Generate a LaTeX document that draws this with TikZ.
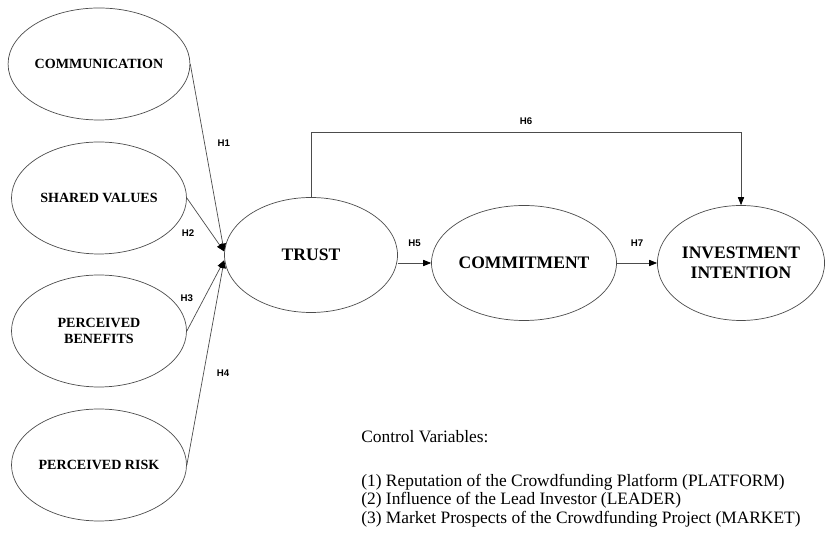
\documentclass[tikz,border=0pt]{standalone}
\usepackage{fontspec}
\setmainfont{Liberation Serif}
\newfontfamily\hfont{Liberation Sans}
\usetikzlibrary{arrows.meta}
\usetikzlibrary{shapes.geometric}

\begin{document}
\begin{tikzpicture}

      \useasboundingbox (0,0) rectangle (16.54,10.8);

      \begin{scope}[every node/.style={ellipse,draw=black!70,thin,inner sep=0pt,align=center,
          font=\bfseries\fontsize{8}{9.5}\selectfont,minimum width=3.5cm,minimum height=2.24cm}]
        \node (comm) at (1.98, 9.52) {COMMUNICATION};
        \node (shared) at (1.98, 6.84) {SHARED VALUES};
        \node (benefit) at (1.98, 4.18) {PERCEIVED\\BENEFITS};
        \node (risk) at (1.98, 1.50) {PERCEIVED RISK};
      \end{scope}

      \begin{scope}[every node/.style={ellipse,draw=black!70,thin,inner sep=0pt,align=center,
          font=\bfseries\fontsize{10}{11.5}\selectfont,minimum height=2.3cm}]
        \node[minimum width=3.46cm] (trust) at (6.22, 5.7) {TRUST};
        \node[minimum width=3.44cm] (commit) at (10.48, 5.54) {COMMITMENT};
        \node[minimum width=3.32cm] (invest) at (14.82, 5.54) {INVESTMENT\\INTENTION};
      \end{scope}

      \begin{scope}[>={Triangle[black,length=4.5pt,width=3.5pt]},
          link/.style={draw=black!70,thin},
          every node/.style={font=\hfont\bfseries\fontsize{5.5}{6}\selectfont},
          every edge/.style={link}]
        \path [->] (comm.east) edge node[pos=0.42,right=4pt] {H1} ([yshift=2pt]trust.west);
        \path [->] (shared.east) edge node[pos=0.65,left=6pt] {H2} ([yshift=2pt]trust.west);
        \path [->] (benefit.east) edge node[pos=0.47,left=3pt] {H3} ([yshift=-3pt]trust.west);
        \path [->] (risk.east) edge node[pos=0.45,right=4pt] {H4} ([yshift=-3pt]trust.west);
        \path [->] (trust.east |- commit.west) edge node[above=6pt] {H5} (commit.west);
        \path [->] (commit.east) edge node[above=6pt] {H7} (invest.west);
        \draw [link,->] (trust.north) -- ++(0,1.3) -| node[pos=0.25,above=1pt] {H6} (invest.north);
      \end{scope}

      \node[anchor=north west,align=left,inner sep=0pt,font=\fontsize{9.9}{10.5}\selectfont] (ctrl) at (7.22, 2.2)
        {Control Variables:\\[14.5pt]
         (1) Reputation of the Crowdfunding Platform (PLATFORM)\\
         (2) Influence of the Lead Investor (LEADER)\\
         (3) Market Prospects of the Crowdfunding Project (MARKET)};

\end{tikzpicture}
\end{document}
